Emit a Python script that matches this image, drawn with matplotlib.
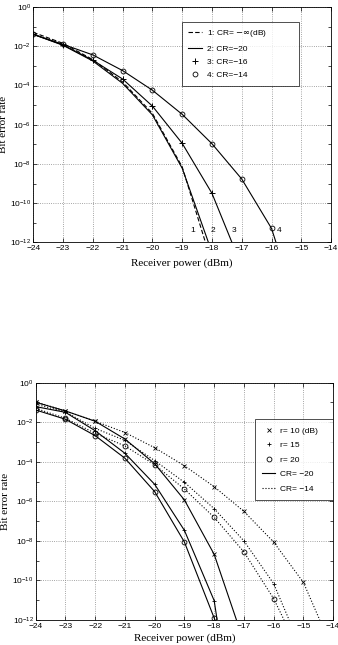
import numpy as np
import matplotlib
matplotlib.use('Agg')
import matplotlib.pyplot as plt
from matplotlib.ticker import FixedLocator, FuncFormatter, NullFormatter

# ---- top panel data (log10 of BER) ----
p1 = [-24, -23, -22, -21, -20, -19, -18.22]
ber1 = [-1.29, -1.85, -2.68, -3.82, -5.42, -8.15, -12.0]
p2 = [-24, -23, -22, -21, -20, -19, -18.12]
ber2 = [-1.39, -1.95, -2.75, -3.89, -5.5, -8.22, -12.0]
p3 = [-24, -23, -22, -21, -20, -19, -18, -17.33]
ber3 = [-1.39, -1.93, -2.71, -3.67, -5.05, -6.95, -9.5, -12.0]
p4 = [-24, -23, -22, -21, -20, -19, -18, -17, -16, -15.85]
ber4 = [-1.39, -1.90, -2.44, -3.24, -4.24, -5.47, -6.97, -8.77, -11.29, -12.0]
top_labels = ['1: CR= $-\\infty$(dB)', '2: CR=\u221220', '3: CR=\u221216', '4: CR=\u221214']
curve_tags = ['1', '2', '3', '4']
tag_x = [-18.65, -17.98, -17.25, -15.74]

# ---- bottom panel data ----
pw_s = [-24, -23, -22, -21, -20, -19, -18]
s_r10 = [-0.99, -1.43, -1.95, -2.85, -4.1, -5.93, -8.68]
s_r15 = [-1.21, -1.5, -2.43, -3.57, -5.14, -7.47, -11.02]
s_r20 = [-1.38, -1.85, -2.68, -3.82, -5.51, -8.06, -11.9]
s_end = [(-17.25, -12.0), (-17.9, -12.0), (-17.97, -12.0)]

pw_d = [-24, -23, -22, -21, -20, -19, -18, -17, -16, -15]
d_r10 = [-0.97, -1.43, -1.95, -2.52, -3.29, -4.2, -5.26, -6.51, -8.06, -10.1]
d_r15 = [-1.09, -1.48, -2.31, -2.92, -3.94, -5.04, -6.37, -8.0, -10.16]
d_r20 = [-1.30, -1.8, -2.56, -3.2, -4.15, -5.38, -6.81, -8.56, -10.92]
d_end = [(-14.45, -12.0), (-15.48, -12.0), (-15.65, -12.0)]
r_labels = ['r= 10 (dB)', 'r= 15', 'r= 20']
cr_labels = ['CR= \u221220', 'CR= \u221214']

plt.rcParams['font.family'] = ['Liberation Sans', 'DejaVu Sans']
serif = 'Liberation Serif'
lw = 0.8
ms = 3.5

def sup(v, pos):
    return '$\\mathregular{10^{%d}}$' % int(round(np.log10(v)))

def style(ax, ylab_x, xlab_y):
    ax.set_yscale('log')
    ax.set_xlim(-24, -14)
    ax.set_ylim(1e-12, 1)
    ax.set_xticks(range(-24, -13))
    ax.set_xticklabels(['\u2212%d' % (-v) for v in range(-24, -13)])
    ax.yaxis.set_major_locator(FixedLocator([10.0 ** k for k in range(-12, 1, 2)]))
    ax.yaxis.set_minor_locator(FixedLocator([10.0 ** k for k in range(-11, 0, 2)]))
    ax.yaxis.set_major_formatter(FuncFormatter(sup))
    ax.yaxis.set_minor_formatter(NullFormatter())
    ax.tick_params(which='both', direction='in', top=True, right=True, labelsize=6, width=0.5)
    ax.tick_params(which='major', length=3)
    ax.tick_params(which='minor', length=2)
    ax.tick_params(axis='x', pad=2)
    ax.tick_params(axis='y', pad=1.5)
    ax.grid(True, which='major', linestyle=':', color='#888888', linewidth=0.6)
    for s in ax.spines.values():
        s.set_linewidth(0.6)
    ax.set_xlabel('Receiver power (dBm)', family=serif, fontsize=8)
    ax.set_ylabel('Bit error rate', family=serif, fontsize=8)
    ax.yaxis.set_label_coords(ylab_x, 0.5)
    ax.xaxis.set_label_coords(0.5, xlab_y)

fig = plt.figure(figsize=(3.38, 6.45), dpi=100)

# top panel
ax = fig.add_axes([0.0985, 0.6243, 0.881, 0.3647])
style(ax, -0.085, -0.07)
h1, = ax.plot(p1, 10.0 ** np.array(ber1), 'k--', lw=lw, dashes=(4, 2))
h2, = ax.plot(p2, 10.0 ** np.array(ber2), 'k-', lw=lw)
ax.plot(p3, 10.0 ** np.array(ber3), 'k-', lw=lw)
h3, = ax.plot(p3[:-1], 10.0 ** np.array(ber3[:-1]), 'k+', ms=ms + 0.5, mew=0.7)
ax.plot(p4, 10.0 ** np.array(ber4), 'k-', lw=lw)
h4, = ax.plot(p4[:-1], 10.0 ** np.array(ber4[:-1]), 'ko', ms=ms, mfc='none', mew=0.6)
for t, xv in zip(curve_tags, tag_x):
    ax.text(xv, 10 ** -11.4, t, fontsize=6, ha='center', va='center')
leg = ax.legend([h1, h2, h3, h4], top_labels, loc='upper left',
                bbox_to_anchor=(0.498, 0.655, 0.395, 0.283), mode='expand',
                fontsize=6, frameon=True, fancybox=False, edgecolor='black',
                handlelength=1.6, handletextpad=0.6, labelspacing=0.65,
                borderpad=0.8, borderaxespad=0)
leg.get_frame().set_linewidth(0.6)

# bottom panel
ax = fig.add_axes([0.1056, 0.0388, 0.880, 0.3679])
style(ax, -0.087, -0.055)
marks = ['x', '+', 'o']
sol = [s_r10, s_r15, s_r20]
dot = [d_r10, d_r15, d_r20]
mh = []
for k in range(3):
    xs = pw_s + [s_end[k][0]]
    ys = 10.0 ** np.array(sol[k] + [s_end[k][1]])
    ax.plot(xs, ys, 'k-', lw=lw)
    xd = pw_d[:len(dot[k])] + [d_end[k][0]]
    yd = 10.0 ** np.array(dot[k] + [d_end[k][1]])
    ax.plot(xd, yd, 'k:', lw=lw)
    kw = dict(ms=ms, mew=0.6, color='k', ls='none')
    if marks[k] == 'o':
        kw['mfc'] = 'none'
    h, = ax.plot(pw_s, 10.0 ** np.array(sol[k]), marks[k], **kw)
    ax.plot(pw_d[:len(dot[k])], 10.0 ** np.array(dot[k]), marks[k], **kw)
    mh.append(h)
ls1, = ax.plot([], [], 'k-', lw=lw)
ls2, = ax.plot([], [], 'k:', lw=lw)
leg = ax.legend(mh + [ls1, ls2], r_labels + cr_labels, loc='upper left',
                bbox_to_anchor=(0.737, 0.499, 0.261, 0.347), mode='expand',
                fontsize=6, frameon=True, fancybox=False, edgecolor='black',
                handlelength=1.5, handletextpad=0.6, labelspacing=0.8,
                borderpad=0.9, borderaxespad=0)
leg.get_frame().set_linewidth(0.6)

plt.savefig('out.png', dpi=100)
